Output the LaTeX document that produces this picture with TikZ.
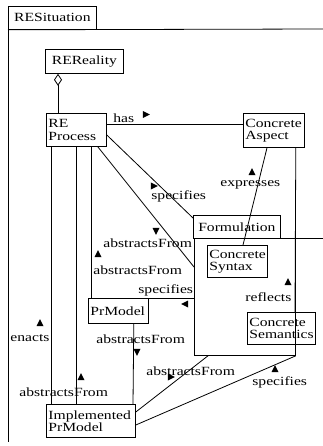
\documentclass[tikz,border=0pt]{standalone}
\usepackage{fontspec}
\setmainfont{Liberation Serif}[FakeStretch=1.25]
\usetikzlibrary{shapes.geometric,arrows.meta}

\begin{document}
\begin{tikzpicture}[x=1pt, y=-1pt, line width=0.8pt,
  every node/.style={font=\fontsize{12.5}{12.3}\selectfont},
  cls/.style={draw, anchor=north west, align=left, inner xsep=2pt, inner ysep=0pt},
  lbl/.style={anchor=base west, inner sep=0pt},
  dirmark/.style={isosceles triangle, isosceles triangle stretches, fill, draw=none,
    inner sep=0pt, minimum width=7pt, minimum height=7pt, shape border rotate=#1},
  dirmark/.default=90]
\useasboundingbox (0,0) rectangle (323,446);

%frames
\node[cls, minimum height=23, text width=84pt, align=center] (sittab) at (8,6) {RESituation};
\coordinate (sitright) at (323,29);
\coordinate (sitbottom) at (8,442);
\draw (sittab.south west) -- (sitright);
\draw (sittab.south west) -- (sitbottom);

\node[cls, minimum height=23, text width=83pt, align=center] (formtab) at (193,215) {Formulation};
\node[draw, anchor=north west, minimum width=101, minimum height=117, inner sep=0pt] (form) at (194,238) {};
\coordinate (formright) at (323,238);
\draw (form.north east) -- (formright);

%classes
\node[cls, minimum height=24, text width=74pt, align=center] (reality) at (45,49) {REReality};
\node[cls, minimum height=33, text width=56pt] (process) at (46,113) {RE\\Process};
\node[cls, minimum height=34, text width=57pt] (aspect) at (243,113) {Concrete\\Aspect};
\node[cls, minimum height=32, text width=56pt] (syntax) at (207,245) {Concrete\\Syntax};
\node[cls, minimum height=25, text width=56pt] (prmodel) at (88,298) {PrModel};
\node[cls, minimum height=32, text width=64pt] (semantics) at (247,312) {Concrete\\Semantics};
\node[cls, minimum height=33, text width=85pt] (impl) at (46,404) {Implemented\\PrModel};

%links
\draw[{Diamond[open,length=12pt,width=8pt]}-] ([xshift=13pt]reality.south west) -- ([xshift=12pt]process.north west);
\draw ([yshift=-11pt]process.north east) -- ([yshift=-11pt]aspect.north west);
\draw ([yshift=-22pt]process.north east) -- ([yshift=-3pt]formtab.north west);
\draw ([xshift=-9pt]process.south east) -- ([yshift=-29pt]form.north west);
\draw ([xshift=5pt]process.south west) -- ([xshift=5pt]impl.north west);
\draw ([xshift=30pt]process.south west) -- ([xshift=30pt]impl.north west);
\draw ([xshift=45pt]process.south west) -- ([xshift=3pt]prmodel.north west);
\draw (prmodel.north east) -- ([yshift=-60pt]form.north west);
\draw ([xshift=-15pt]prmodel.south east) -- ([xshift=87pt]impl.north west);
\draw ([yshift=-8pt]impl.north east) -- ([xshift=14pt]form.south west);
\draw ([yshift=-21pt]impl.north east) -- (form.south east);
\draw ([xshift=24pt]aspect.south west) -- ([xshift=36pt]syntax.north west);
\draw ([xshift=-9pt]aspect.south east) -- ([xshift=48pt]semantics.north west);

%labels
\node[lbl] (l-has) at (113,123) {has};
\node[dirmark=0] (m-has) at (145,114.5) {};
\node[lbl] (l-spec1) at (151,199) {specifies};
\node[dirmark=-43.6] (m-spec1) at (153,186) {};
\node[lbl] (l-abs1) at (103,247) {abstractsFrom};
\node[dirmark=-51.3] (m-abs1) at (156,230) {};
\node[lbl] (l-abs2) at (93,274) {abstractsFrom};
\node[dirmark] (m-abs2) at (98,255) {};
\node[lbl] (l-spec2) at (138,293) {specifies};
\node[dirmark=180] (m-spec2) at (186,304) {};
\node[lbl] (l-expr) at (220,186.5) {expresses};
\node[dirmark] (m-expr) at (252,173) {};
\node[lbl] (l-refl) at (245,301.5) {reflects};
\node[dirmark] (m-refl) at (288,283) {};
\node[lbl] (l-enacts) at (10,341.5) {enacts};
\node[dirmark] (m-enacts) at (40,324) {};
\node[lbl] (l-abs3) at (19,396.5) {abstractsFrom};
\node[dirmark] (m-abs3) at (81,378) {};
\node[lbl] (l-abs4) at (96,343) {abstractsFrom};
\node[dirmark=-90] (m-abs4) at (137,351) {};
\node[lbl] (l-abs5) at (146,375) {abstractsFrom};
\node[dirmark=40] (m-abs5) at (170,377) {};
\node[lbl] (l-spec3) at (252,385.5) {specifies};
\node[dirmark] (m-spec3) at (275,370) {};
\end{tikzpicture}
\end{document}
